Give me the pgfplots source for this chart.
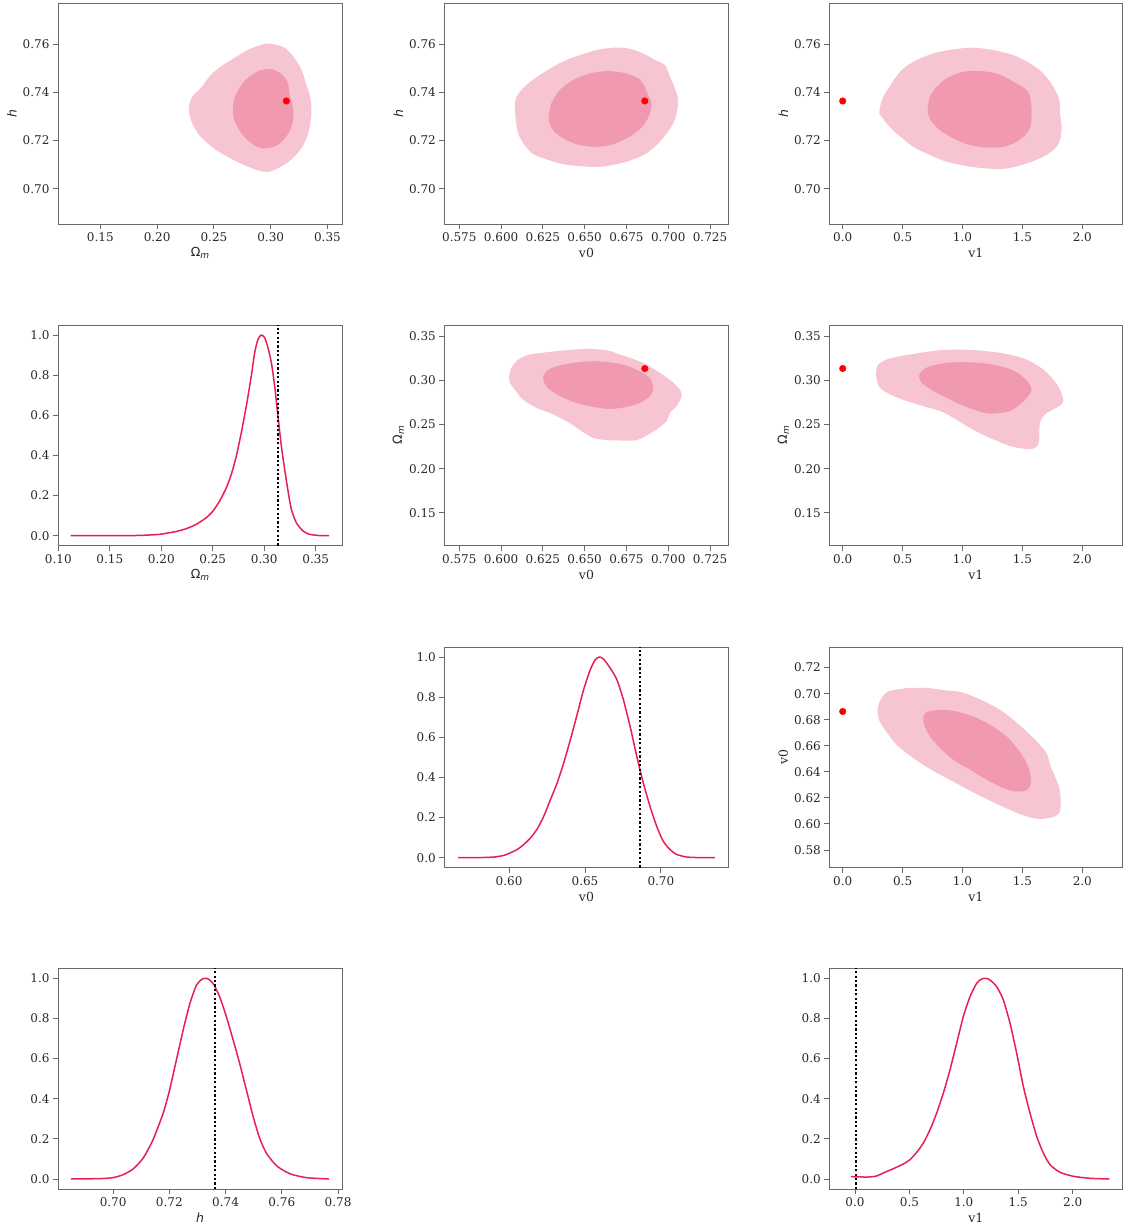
\documentclass[border=0pt]{standalone}
\usepackage{fontspec}
\setmainfont{DejaVu Serif}
\newfontfamily\dvs{DejaVu Sans}
\usepackage{pgfplots}
\pgfplotsset{compat=1.18}
\definecolor{outerc}{RGB}{247,196,209}
\definecolor{innerc}{RGB}{240,153,175}
\definecolor{curvec}{RGB}{232,32,82}
\definecolor{spine}{RGB}{105,105,105}
\definecolor{tickc}{RGB}{38,38,38}
\newcommand{\Om}{{\dvs Ω}\raisebox{-0.35ex}{\dvs\itshape\fontsize{9}{10}\selectfont m}}
\newcommand{\hh}{{\dvs\itshape h}}
\pgfplotsset{
  base/.style={scale only axis, anchor=south west,
    axis line style={draw=spine, line width=0.9pt},
    tick pos=left, tick align=outside, major tick length=5pt,
    every tick/.style={draw=spine, line width=0.9pt},
    tick label style={font=\fontsize{12}{14}\selectfont, text=tickc},
    /pgf/number format/assume math mode=true,
    /pgf/number format/fixed, /pgf/number format/fixed zerofill,
    scaled ticks=false,
    every axis x label/.style={at={([yshift=-29pt]axis description cs:0.5,0)}, anchor=center, font=\fontsize{12.5}{14}\selectfont, text=tickc},
    every axis y label/.style={at={([xshift=-46pt]axis description cs:0,0.5)}, anchor=center, rotate=90, font=\fontsize{12.5}{14}\selectfont, text=tickc},
  },
  c1/.style={base, width=284pt, height=220.7pt},
  c2/.style={base, width=284.4pt, height=220.7pt},
  c3/.style={base, width=293pt, height=220.7pt},
  omx/.style={xmin=0.1127, xmax=0.3628, xtick={0.15,0.20,0.25,0.30,0.35}, xticklabel style={/pgf/number format/precision=2}, xlabel={\Om}},
  omy/.style={ymin=0.1127, ymax=0.3628, ytick={0.15,0.20,0.25,0.30,0.35}, yticklabel style={/pgf/number format/precision=2}, ylabel={\Om}},
  hy/.style={ymin=0.6854, ymax=0.7769, ytick={0.70,0.72,0.74,0.76}, yticklabel style={/pgf/number format/precision=2}, ylabel={\hh}},
  vzx/.style={xmin=0.5660, xmax=0.7362, xtick={0.575,0.600,0.625,0.650,0.675,0.700,0.725}, xticklabel style={/pgf/number format/precision=3}, xlabel={v0}},
  vzy/.style={ymin=0.5664, ymax=0.7358, ytick={0.58,0.60,0.62,0.64,0.66,0.68,0.70,0.72}, yticklabel style={/pgf/number format/precision=2}, ylabel={v0}},
  vox/.style={xmin=-0.112, xmax=2.334, xtick={0,0.5,1,1.5,2}, xticklabel style={/pgf/number format/precision=1}, xlabel={v1}},
  pdfy/.style={ymin=-0.05, ymax=1.05, ytick={0,0.2,0.4,0.6,0.8,1.0}, yticklabel style={/pgf/number format/precision=1}},
  outer/.style={fill=outerc, draw=none, smooth, tension=0.5},
  inner/.style={fill=innerc, draw=none, smooth, tension=0.5},
  truth/.style={only marks, mark=*, mark size=3.3pt, mark options={draw=red, fill=red}},
  pdf/.style={curvec, line width=1.5pt, smooth, tension=0.4},
  vline/.style={black, line width=2pt, dash pattern=on 2.2pt off 2.2pt},
}
\begin{document}
\begin{tikzpicture}
\path[use as bounding box] (0pt,0pt) rectangle (1123pt,1226pt);

% ---------- Row 1 ----------
\begin{axis}[c1, at={(58pt,1002pt)}, omx, hy]
\addplot[outer] coordinates {(0.2279,0.7340) (0.2309,0.7382) (0.2382,0.7416) (0.2471,0.7471) (0.2559,0.7506) (0.2676,0.7541) (0.2794,0.7575) (0.2941,0.7600) (0.3029,0.7599) (0.3132,0.7582) (0.3221,0.7534) (0.3279,0.7485) (0.3309,0.7437) (0.3347,0.7382) (0.3359,0.7319) (0.3338,0.7243) (0.3279,0.7174) (0.3176,0.7119) (0.3059,0.7084) (0.2971,0.7070) (0.2882,0.7077) (0.2735,0.7105) (0.2618,0.7133) (0.2500,0.7167) (0.2382,0.7216) (0.2324,0.7257) (0.2288,0.7299) (0.2279,0.7340)};
\addplot[inner] coordinates {(0.2668,0.7326) (0.2676,0.7368) (0.2721,0.7416) (0.2794,0.7458) (0.2897,0.7489) (0.3000,0.7496) (0.3088,0.7478) (0.3147,0.7444) (0.3171,0.7382) (0.3200,0.7326) (0.3191,0.7271) (0.3147,0.7223) (0.3059,0.7181) (0.2956,0.7167) (0.2868,0.7177) (0.2779,0.7209) (0.2706,0.7257) (0.2671,0.7299) (0.2668,0.7326)};
\addplot[truth] coordinates {(0.3138,0.7364)};
\end{axis}

\begin{axis}[c2, at={(444.3pt,1002pt)}, vzx, hy]
\addplot[outer] coordinates {(0.6082,0.7340) (0.6092,0.7382) (0.6151,0.7430) (0.6231,0.7471) (0.6311,0.7506) (0.6391,0.7534) (0.6471,0.7554) (0.6571,0.7575) (0.6671,0.7585) (0.6761,0.7582) (0.6850,0.7561) (0.6920,0.7534) (0.6980,0.7513) (0.7010,0.7465) (0.7040,0.7416) (0.7060,0.7368) (0.7050,0.7312) (0.7030,0.7271) (0.6990,0.7229) (0.6940,0.7188) (0.6870,0.7147) (0.6791,0.7122) (0.6711,0.7105) (0.6591,0.7091) (0.6471,0.7094) (0.6371,0.7102) (0.6271,0.7122) (0.6191,0.7144) (0.6141,0.7181) (0.6102,0.7229) (0.6088,0.7285) (0.6082,0.7340)};
\addplot[inner] coordinates {(0.6285,0.7299) (0.6301,0.7354) (0.6351,0.7409) (0.6431,0.7451) (0.6531,0.7478) (0.6631,0.7488) (0.6731,0.7481) (0.6821,0.7458) (0.6860,0.7423) (0.6880,0.7388) (0.6900,0.7354) (0.6890,0.7312) (0.6860,0.7271) (0.6811,0.7236) (0.6731,0.7202) (0.6651,0.7181) (0.6551,0.7174) (0.6451,0.7185) (0.6371,0.7209) (0.6311,0.7243) (0.6287,0.7278) (0.6285,0.7299)};
\addplot[truth] coordinates {(0.6860,0.7364)};
\end{axis}

\begin{axis}[c3, at={(829.3pt,1002pt)}, vox, hy]
\addplot[outer] coordinates {(0.306,0.7312) (0.3115,0.7340) (0.3394,0.7382) (0.3811,0.7416) (0.4367,0.7458) (0.5063,0.7499) (0.6175,0.7534) (0.7566,0.7561) (0.9235,0.7578) (1.0904,0.7585) (1.2573,0.7575) (1.4242,0.7554) (1.5633,0.7520) (1.6745,0.7478) (1.7580,0.7423) (1.8081,0.7368) (1.8136,0.7312) (1.8275,0.7257) (1.8136,0.7202) (1.7719,0.7167) (1.6745,0.7133) (1.5355,0.7105) (1.3686,0.7084) (1.2017,0.7084) (1.0348,0.7094) (0.8679,0.7112) (0.7288,0.7140) (0.5897,0.7174) (0.4506,0.7229) (0.3672,0.7271) (0.306,0.7312)};
\addplot[inner] coordinates {(0.7093,0.7340) (0.7288,0.7382) (0.7844,0.7423) (0.8679,0.7458) (1.0070,0.7485) (1.1460,0.7488) (1.2851,0.7478) (1.4242,0.7444) (1.5355,0.7409) (1.5688,0.7368) (1.5772,0.7312) (1.5688,0.7264) (1.5355,0.7229) (1.4520,0.7195) (1.3408,0.7174) (1.2017,0.7171) (1.0626,0.7181) (0.9235,0.7209) (0.8122,0.7243) (0.7427,0.7278) (0.7149,0.7306) (0.7093,0.7340)};
\addplot[truth] coordinates {(0,0.7364)};
\end{axis}

% ---------- Row 2 ----------
\begin{axis}[c1, at={(58pt,680.3pt)}, pdfy, xmin=0.0997, xmax=0.3755, xtick={0.10,0.15,0.20,0.25,0.30,0.35}, xticklabel style={/pgf/number format/precision=2}, xlabel={\Om}]
\addplot[pdf] coordinates {(0.1120,0) (0.1402,0) (0.1725,0.0005) (0.1887,0.0033) (0.1984,0.0066) (0.2049,0.0120) (0.2146,0.0210) (0.2243,0.0350) (0.2340,0.0565) (0.2437,0.0897) (0.2502,0.1229) (0.2567,0.1728) (0.2632,0.2392) (0.2680,0.3056) (0.2729,0.3970) (0.2777,0.5133) (0.2826,0.6462) (0.2874,0.7957) (0.2907,0.9120) (0.2939,0.9784) (0.2971,1.0) (0.3004,0.9867) (0.3036,0.9369) (0.3069,0.8621) (0.3101,0.7458) (0.3133,0.5963) (0.3166,0.4468) (0.3198,0.3306) (0.3231,0.2226) (0.3263,0.1312) (0.3311,0.0648) (0.3376,0.0233) (0.3441,0.0066) (0.3538,0.0005) (0.3629,0)};
\addplot[vline] coordinates {(0.3138,-0.05) (0.3138,1.05)};
\end{axis}

\begin{axis}[c2, at={(444.3pt,680.3pt)}, vzx, omy]
\addplot[outer] coordinates {(0.6048,0.3047) (0.6062,0.3142) (0.6102,0.3236) (0.6171,0.3292) (0.6271,0.3319) (0.6391,0.3342) (0.6511,0.3357) (0.6631,0.3342) (0.6711,0.3292) (0.6791,0.3243) (0.6870,0.3179) (0.6950,0.3085) (0.7020,0.2991) (0.7070,0.2896) (0.7080,0.2821) (0.7050,0.2708) (0.7010,0.2632) (0.6990,0.2538) (0.6930,0.2443) (0.6870,0.2375) (0.6811,0.2323) (0.6731,0.2319) (0.6631,0.2323) (0.6551,0.2349) (0.6491,0.2413) (0.6391,0.2538) (0.6291,0.2632) (0.6211,0.2689) (0.6131,0.2783) (0.6082,0.2896) (0.6052,0.2972) (0.6048,0.3047)};
\addplot[inner] coordinates {(0.6251,0.3028) (0.6271,0.3104) (0.6331,0.3160) (0.6431,0.3198) (0.6531,0.3217) (0.6631,0.3209) (0.6731,0.3179) (0.6830,0.3104) (0.6890,0.3028) (0.6910,0.2915) (0.6890,0.2821) (0.6830,0.2745) (0.6751,0.2700) (0.6651,0.2677) (0.6551,0.2700) (0.6451,0.2745) (0.6361,0.2813) (0.6291,0.2896) (0.6261,0.2964) (0.6251,0.3028)};
\addplot[truth] coordinates {(0.6860,0.3134)};
\end{axis}

\begin{axis}[c3, at={(829.3pt,680.3pt)}, vox, omy]
\addplot[outer] coordinates {(0.278,0.3105) (0.2976,0.3180) (0.3672,0.3236) (0.4784,0.3274) (0.6453,0.3312) (0.8122,0.3342) (0.9791,0.3349) (1.1460,0.3338) (1.3129,0.3312) (1.4520,0.3274) (1.5633,0.3218) (1.6745,0.3123) (1.7580,0.3010) (1.8136,0.2897) (1.8414,0.2784) (1.8275,0.2728) (1.7580,0.2671) (1.6885,0.2615) (1.6467,0.2521) (1.6412,0.2370) (1.6328,0.2276) (1.5911,0.2227) (1.5077,0.2227) (1.3964,0.2257) (1.2573,0.2332) (1.1460,0.2400) (1.0348,0.2483) (0.9235,0.2577) (0.8122,0.2653) (0.6732,0.2709) (0.5341,0.2766) (0.3950,0.2841) (0.3115,0.2916) (0.2837,0.3010) (0.278,0.3105)};
\addplot[inner] coordinates {(0.6370,0.3048) (0.6592,0.3105) (0.7288,0.3161) (0.8679,0.3199) (1.0348,0.3206) (1.2017,0.3191) (1.3686,0.3142) (1.4798,0.3067) (1.5494,0.2973) (1.5772,0.2897) (1.5494,0.2822) (1.4798,0.2728) (1.3964,0.2653) (1.2851,0.2626) (1.2017,0.2626) (1.0904,0.2671) (0.9791,0.2728) (0.8679,0.2803) (0.7566,0.2879) (0.6592,0.2973) (0.6370,0.3048)};
\addplot[truth] coordinates {(0,0.3135)};
\end{axis}

% ---------- Row 3 ----------
\begin{axis}[c2, at={(444.3pt,358.3pt)}, pdfy, xmin=0.5573, xmax=0.7447, xtick={0.60,0.65,0.70}, xticklabel style={/pgf/number format/precision=2}, xlabel={v0}]
\addplot[pdf] coordinates {(0.5664,0) (0.5814,0.0005) (0.5902,0.0033) (0.5967,0.0116) (0.6011,0.0249) (0.6055,0.0415) (0.6098,0.0663) (0.6142,0.0995) (0.6186,0.1443) (0.6229,0.2073) (0.6273,0.2902) (0.6317,0.3731) (0.6360,0.4726) (0.6404,0.5887) (0.6448,0.7131) (0.6491,0.8375) (0.6535,0.9370) (0.6568,0.9867) (0.6596,1.0) (0.6622,0.9900) (0.6666,0.9453) (0.6710,0.8873) (0.6753,0.7877) (0.6797,0.6551) (0.6841,0.5058) (0.6884,0.3731) (0.6928,0.2570) (0.6972,0.1575) (0.7015,0.0829) (0.7059,0.0415) (0.7103,0.0166) (0.7168,0.0033) (0.7255,0.0003) (0.7356,0)};
\addplot[vline] coordinates {(0.6862,-0.05) (0.6862,1.05)};
\end{axis}

\begin{axis}[c3, at={(829.3pt,358.3pt)}, vox, vzy]
\addplot[outer] coordinates {(0.2893,0.6876) (0.3115,0.6947) (0.3533,0.6998) (0.3950,0.7021) (0.5341,0.7042) (0.7010,0.7044) (0.8679,0.7024) (0.9791,0.7013) (1.0904,0.6978) (1.2017,0.6932) (1.3129,0.6876) (1.4242,0.6799) (1.5355,0.6709) (1.6328,0.6620) (1.7024,0.6543) (1.7357,0.6441) (1.7719,0.6365) (1.8081,0.6275) (1.8192,0.6186) (1.8136,0.6096) (1.7719,0.6058) (1.7024,0.6043) (1.6328,0.6038) (1.5355,0.6058) (1.4242,0.6096) (1.2851,0.6155) (1.1460,0.6216) (1.0070,0.6283) (0.8679,0.6352) (0.7288,0.6421) (0.5897,0.6505) (0.4506,0.6607) (0.3533,0.6722) (0.3032,0.6799) (0.2893,0.6876)};
\addplot[inner] coordinates {(0.6732,0.6819) (0.6871,0.6850) (0.7427,0.6868) (0.8401,0.6876) (0.9513,0.6863) (1.0904,0.6824) (1.2295,0.6761) (1.3686,0.6671) (1.4659,0.6569) (1.5355,0.6467) (1.5688,0.6365) (1.5633,0.6288) (1.5216,0.6255) (1.4381,0.6250) (1.3408,0.6275) (1.2017,0.6339) (1.0626,0.6416) (0.9235,0.6492) (0.8122,0.6582) (0.7288,0.6671) (0.6787,0.6761) (0.6732,0.6819)};
\addplot[truth] coordinates {(0,0.6863)};
\end{axis}

% ---------- Row 4 ----------
\begin{axis}[c1, at={(58pt,37pt)}, pdfy, xmin=0.6804, xmax=0.7814, xtick={0.70,0.72,0.74,0.76,0.78}, xticklabel style={/pgf/number format/precision=2}, xlabel={\hh}]
\addplot[pdf] coordinates {(0.6850,0) (0.6953,0.0017) (0.7000,0.0066) (0.7036,0.0215) (0.7071,0.0497) (0.7107,0.1043) (0.7142,0.1954) (0.7178,0.3278) (0.7201,0.4437) (0.7225,0.5927) (0.7249,0.7417) (0.7273,0.8742) (0.7296,0.9652) (0.7314,0.9934) (0.7326,1.0) (0.7338,0.9967) (0.7356,0.9735) (0.7379,0.9073) (0.7403,0.8079) (0.7427,0.6921) (0.7450,0.5762) (0.7474,0.4437) (0.7498,0.3113) (0.7521,0.2036) (0.7545,0.1291) (0.7581,0.0662) (0.7628,0.0265) (0.7687,0.0066) (0.7768,0)};
\addplot[vline] coordinates {(0.7364,-0.05) (0.7364,1.05)};
\end{axis}

\begin{axis}[c3, at={(829.3pt,37pt)}, pdfy, xmin=-0.236, xmax=2.456, xtick={0,0.5,1,1.5,2}, xticklabel style={/pgf/number format/precision=1}, xlabel={v1}]
\addplot[pdf] coordinates {(-0.0368,0.0116) (0.0459,0.0100) (0.1378,0.0100) (0.1991,0.0149) (0.2603,0.0299) (0.3522,0.0514) (0.4441,0.0746) (0.5054,0.0962) (0.5666,0.1327) (0.6279,0.1791) (0.6891,0.2454) (0.7504,0.3284) (0.8116,0.4279) (0.8729,0.5439) (0.9342,0.6766) (0.9954,0.8093) (1.0567,0.9088) (1.1179,0.9751) (1.1639,0.9967) (1.2037,1.0) (1.2404,0.9917) (1.3017,0.9585) (1.3629,0.8922) (1.4242,0.7761) (1.4855,0.6269) (1.5467,0.4610) (1.6080,0.3284) (1.6692,0.2123) (1.7305,0.1294) (1.7917,0.0713) (1.8836,0.0332) (2.0061,0.0133) (2.1593,0.0033) (2.3369,0)};
\addplot[vline] coordinates {(0.01,-0.05) (0.01,1.05)};
\end{axis}
\end{tikzpicture}
\end{document}
